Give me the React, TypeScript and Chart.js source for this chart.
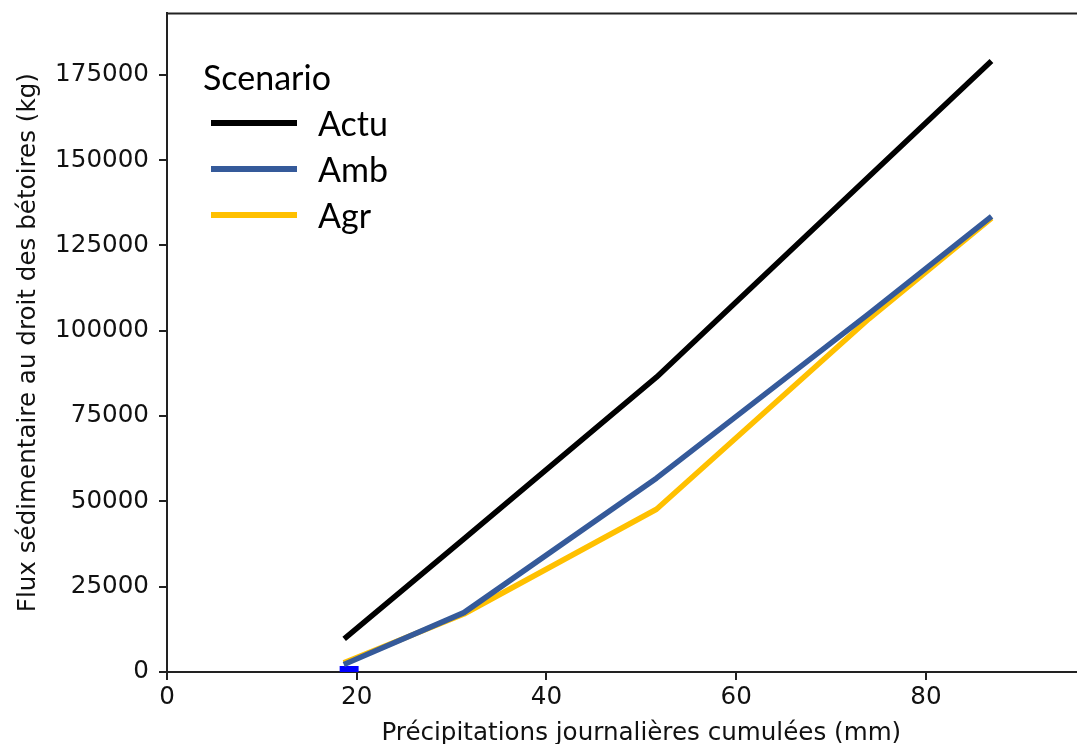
import { useEffect, useRef } from 'react'
import { Chart, registerables, type Plugin } from 'chart.js'

Chart.register(...registerables)

// ─── data ───
const precipMm = [18.9, 31.3, 51.6, 74.0, 86.7]
const actuKg = [10200, 39000, 86400, 145200, 178500]
const ambKg = [2500, 17400, 56800, 105000, 133000]
const agrKg = [3000, 17000, 47700, 103500, 132500]
const markerX = [19.2]
const markerY = [-1000]

const xTicks = [0, 20, 40, 60, 80, 100]
const yTicks = [0, 25000, 50000, 75000, 100000, 125000, 150000, 175000]

const SCENARIOS = [
  { label: 'Actu', color: '#000000', values: actuKg },
  { label: 'Amb', color: '#355a9a', values: ambKg },
  { label: 'Agr', color: '#ffc000', values: agrKg },
]

const TICK_FONT = { family: 'DejaVu Sans', size: 24.6 }
const AXIS_COLOR = '#222'

// matplotlib-style top spine
const topSpine: Plugin = {
  id: 'topSpine',
  afterDraw(chart) {
    const { ctx, chartArea } = chart
    ctx.save()
    ctx.strokeStyle = AXIS_COLOR
    ctx.lineWidth = 2
    ctx.beginPath()
    ctx.moveTo(chartArea.left - 1, chartArea.top)
    ctx.lineTo(chartArea.right, chartArea.top)
    ctx.stroke()
    ctx.restore()
  },
}

function FluxChart() {
  const canvasRef = useRef<HTMLCanvasElement | null>(null)
  const chartRef = useRef<Chart | null>(null)

  useEffect(() => {
    if (!canvasRef.current) return
    chartRef.current?.destroy()

    const pts = (vals: number[]) => vals.map((y, i) => ({ x: precipMm[i], y }))

    chartRef.current = new Chart(canvasRef.current, {
      type: 'line',
      data: {
        datasets: [
          {
            label: 'marker',
            data: markerX.map((x, i) => ({ x, y: markerY[i] })),
            showLine: false,
            pointStyle: 'rect',
            pointRadius: 13.4,
            pointBorderWidth: 0,
            pointBackgroundColor: '#0000ff',
            backgroundColor: '#0000ff',
            clip: 0,
            order: 3,
          },
          ...SCENARIOS.map((s, i) => ({
            label: s.label,
            data: pts(s.values),
            borderColor: s.color,
            backgroundColor: s.color,
            borderWidth: 5.5,
            borderCapStyle: 'square' as const,
            borderJoinStyle: 'round' as const,
            pointRadius: 0,
            tension: 0,
            fill: false,
            // Amb sits on top of Agr
            order: [2, 0, 1][i],
          })),
        ],
      },
      options: {
        animation: false,
        responsive: true,
        maintainAspectRatio: false,
        events: [],
        layout: { padding: { top: 12, right: 0, bottom: 0, left: 0 } },
        plugins: { legend: { display: false }, tooltip: { enabled: false } },
        scales: {
          x: {
            type: 'linear',
            min: 0,
            max: 100,
            afterBuildTicks: (scale) => {
              scale.ticks = xTicks.map((value) => ({ value }))
            },
            afterFit: (scale) => {
              scale.height = 88
            },
            grid: { drawOnChartArea: false, drawTicks: true, tickLength: 8, color: AXIS_COLOR, lineWidth: 2 },
            border: { display: true, color: AXIS_COLOR, width: 2 },
            ticks: {
              font: TICK_FONT,
              color: '#111',
              padding: 3,
              maxRotation: 0,
              // the last tick falls outside the cropped picture
              callback: (v) => (Number(v) === 100 ? '' : String(v)),
            },
            title: {
              display: true,
              text: 'Précipitations journalières cumulées (mm)',
              font: TICK_FONT,
              color: '#111',
              padding: { top: 0, bottom: 12 },
            },
          },
          y: {
            type: 'linear',
            min: 0,
            max: 193000,
            afterBuildTicks: (scale) => {
              scale.ticks = yTicks.map((value) => ({ value }))
            },
            afterFit: (scale) => {
              scale.width = 167
              scale.paddingTop = 0
              scale.paddingBottom = 0
            },
            grid: { drawOnChartArea: false, drawTicks: true, tickLength: 8, color: AXIS_COLOR, lineWidth: 2 },
            border: { display: true, color: AXIS_COLOR, width: 2 },
            ticks: { font: TICK_FONT, color: '#111', padding: 10, callback: (v) => String(v) },
            title: {
              display: true,
              text: 'Flux sédimentaire au droit des bétoires (kg)',
              font: TICK_FONT,
              color: '#111',
              padding: { top: 14, bottom: 0 },
            },
          },
        },
      },
      plugins: [topSpine],
    })

    return () => {
      chartRef.current?.destroy()
      chartRef.current = null
    }
  }, [])

  return (
    <div style={{ position: 'absolute', left: 0, top: 0, width: 1129, height: 760 }}>
      <canvas ref={canvasRef} />
    </div>
  )
}

function Legend() {
  const row = { display: 'flex', alignItems: 'center', height: 46 } as const
  return (
    <div
      style={{
        position: 'absolute',
        left: 203,
        top: 54,
        fontFamily: 'Lato, "Noto Sans", sans-serif',
        fontSize: 34,
        color: '#000',
        lineHeight: 1.2,
      }}
    >
      <div style={row}>Scenario</div>
      {SCENARIOS.map((s) => (
        <div key={s.label} style={row}>
          <span style={{ display: 'inline-block', width: 86, height: 6, background: s.color, marginLeft: 8, marginRight: 21 }} />
          {s.label}
        </div>
      ))}
    </div>
  )
}

export default function App() {
  return (
    <div
      style={{
        position: 'fixed',
        left: 0,
        top: 0,
        width: 1077,
        height: 744,
        overflow: 'hidden',
        background: '#fff',
      }}
    >
      <FluxChart />
      <Legend />
    </div>
  )
}
